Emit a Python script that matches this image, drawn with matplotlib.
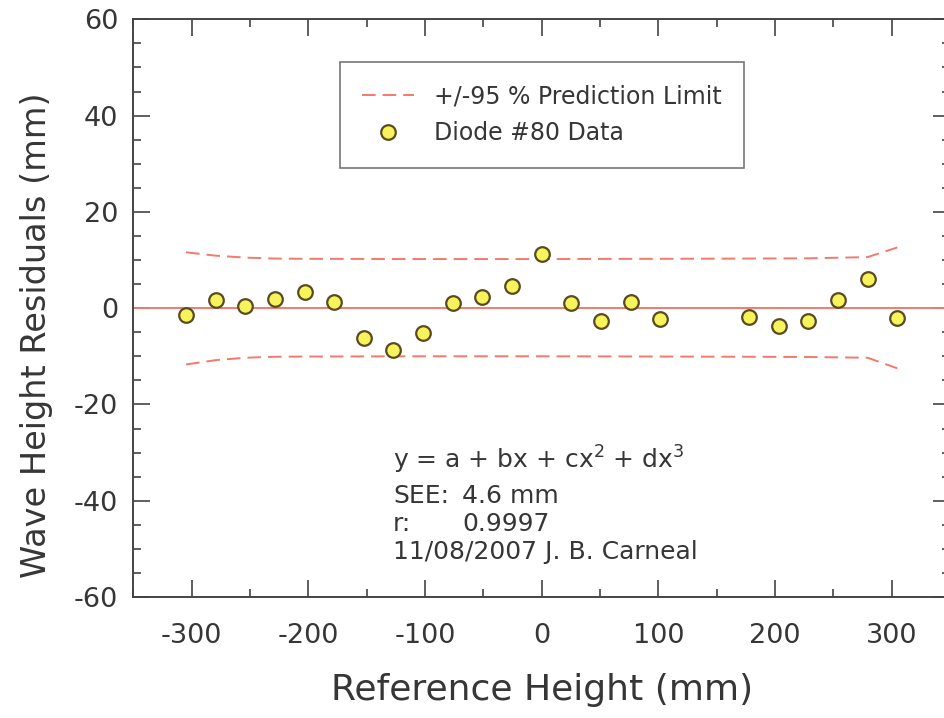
import matplotlib
matplotlib.use("Agg")
import matplotlib.pyplot as plt
from matplotlib.ticker import MultipleLocator
import numpy as np

plt.rcParams['font.family'] = ['DejaVu Sans']
plt.rcParams['mathtext.default'] = 'regular'
plt.rcParams['axes.unicode_minus'] = False

# Data
ref_height = [-304.8, -279.4, -254.0, -228.6, -203.2, -177.8, -152.4, -127.0, -101.6,
              -76.2, -50.8, -25.4, 0.0, 25.4, 50.8, 76.2, 101.6,
              177.8, 203.2, 228.6, 254.0, 279.4, 304.8]
residuals = [-1.5, 1.6, 0.5, 1.8, 3.4, 1.3, -6.2, -8.6, -5.2,
             1.1, 2.3, 4.5, 11.3, 1.1, -2.7, 1.2, -2.2,
             -1.8, -3.7, -2.7, 1.6, 6.1, -2.0]

limit_x = [-304.8, -279.4, -254.0, -228.6, -203.2, -101.6, 0.0, 101.6, 177.8, 228.6, 279.4, 304.8]
upper_limit = [11.6, 10.9, 10.5, 10.3, 10.25, 10.2, 10.2, 10.25, 10.3, 10.35, 10.6, 12.6]
lower_limit = [-11.7, -10.8, -10.3, -10.1, -10.05, -10.0, -10.0, -10.05, -10.1, -10.15, -10.3, -12.5]

x_ticks = [-300, -200, -100, 0, 100, 200, 300]
y_ticks = [-60, -40, -20, 0, 20, 40, 60]

line_color = '#f27a6c'
text_color = '#363636'

fig = plt.figure(figsize=(9.44, 7.18), dpi=100)
ax = fig.add_axes([133.3 / 944, (718 - 597) / 718, (950 - 133.3) / 944, (597 - 19.3) / 718])

ax.axhline(0, color=line_color, lw=1.4, zorder=2)
ax.plot(limit_x, upper_limit, color=line_color, lw=1.4, dashes=(7, 3.6),
        label='+/-95 % Prediction Limit', zorder=2)
ax.plot(limit_x, lower_limit, color=line_color, lw=1.4, dashes=(7, 3.6), zorder=2)
ax.plot(ref_height, residuals, linestyle='none', marker='o', markersize=10.5,
        markerfacecolor='#f7f35a', markeredgecolor='#5a4a22', markeredgewidth=1.6,
        label='Diode #80 Data', zorder=3)

ax.set_xlim(-350, 350)
ax.set_ylim(-60, 60)
ax.set_xticks(x_ticks)
ax.set_yticks(y_ticks)
ax.xaxis.set_minor_locator(MultipleLocator(50))
ax.yaxis.set_minor_locator(MultipleLocator(5))
ax.tick_params(which='both', direction='in', top=True, right=True, colors='#444444',
               labelcolor=text_color, labelsize=19.5, width=1.2)
ax.tick_params(which='major', length=12)
ax.tick_params(which='minor', length=6)
ax.tick_params(axis='x', which='major', pad=19)
ax.tick_params(axis='y', which='major', pad=11)
for s in ax.spines.values():
    s.set_color('#444444')
    s.set_linewidth(1.4)

ax.set_xlabel('Reference Height (mm)', fontsize=26, color=text_color, labelpad=17)
ax.set_ylabel('Wave Height Residuals (mm)', fontsize=24.2, color=text_color)
ax.yaxis.set_label_coords(-0.098, 0.4535)

leg = ax.legend(loc='upper left', bbox_to_anchor=(339.6 / 944, (718 - 62) / 718),
                bbox_transform=fig.transFigure, fontsize=17, frameon=True,
                fancybox=False, shadow=False, handlelength=2.2, handletextpad=0.85,
                borderpad=0.95, labelspacing=0.55, numpoints=1,
                borderaxespad=0)
leg.get_frame().set_edgecolor('#555555')
leg.get_frame().set_linewidth(1.2)
for t in leg.get_texts():
    t.set_color(text_color)

fs = 18
x0 = 0.318
x1 = 0.4025
ax.text(x0, 0.222, r'y = a + bx + cx$^2$ + dx$^3$', transform=ax.transAxes,
        fontsize=fs, color=text_color, va='baseline')
ax.text(x0, 0.162, 'SEE:', transform=ax.transAxes,
        fontsize=fs, color=text_color, va='baseline')
ax.text(x1, 0.162, '4.6 mm', transform=ax.transAxes,
        fontsize=fs, color=text_color, va='baseline')
ax.text(x0, 0.114, 'r:', transform=ax.transAxes,
        fontsize=fs, color=text_color, va='baseline')
ax.text(x1, 0.114, '0.9997', transform=ax.transAxes,
        fontsize=fs, color=text_color, va='baseline')
ax.text(x0, 0.065, '11/08/2007 J. B. Carneal', transform=ax.transAxes,
        fontsize=fs, color=text_color, va='baseline')

fig.savefig('out.png', dpi=100)
